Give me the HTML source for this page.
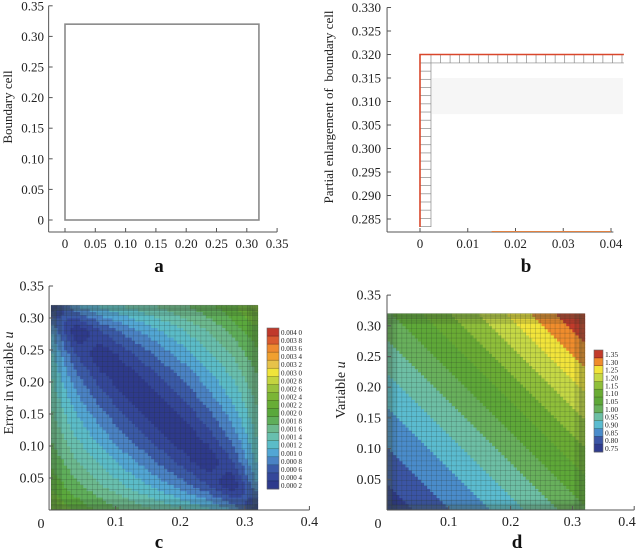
<!DOCTYPE html>
<html><head><meta charset="utf-8"><style>
body{margin:0;background:#fff;}
svg{display:block;font-family:"Liberation Serif",serif;}
</style></head><body>
<svg id="fig" width="638" height="555" viewBox="0 0 638 555" xmlns="http://www.w3.org/2000/svg">
<g id="pa"></g>
<g id="pb"></g>
<g id="pc"></g>
<g id="pd"></g>
</svg>
<script>
// ---- data ----
const gridCoords = [0,0.04,0.08,0.12,0.16,0.20,0.24,0.28,0.32];
// panel c: error (units of 1e-4), rows bottom (y=0) to top (y=0.32)
const errorGrid = [
 [22.0,19.5,17.4,15.7,14.0,12.5,10.8,8.2,0],
 [19.5,16.5,13.9,11.6,9.4,7.0,4.2,0,8.2],
 [17.4,13.9,11.0,8.4,5.8,3.1,0,4.2,10.8],
 [15.7,11.6,8.4,5.5,2.8,0,3.1,7.0,12.5],
 [14.0,9.4,5.8,2.8,0,2.8,5.8,9.4,14.0],
 [12.5,7.0,3.1,0,2.8,5.5,8.4,11.6,15.7],
 [10.8,4.2,0,3.1,5.8,8.4,11.0,13.9,17.4],
 [8.2,0,4.2,7.0,9.4,11.6,13.9,16.5,19.5],
 [0,8.2,10.8,12.5,14.0,15.7,17.4,19.5,23.0]
];
// panel d: variable u, rows bottom to top
const uGrid = [
 [0.720,0.749,0.780,0.812,0.845,0.879,0.915,0.953,0.992],
 [0.749,0.780,0.812,0.845,0.879,0.915,0.953,0.992,1.032],
 [0.780,0.812,0.845,0.879,0.915,0.953,0.992,1.032,1.074],
 [0.812,0.845,0.879,0.915,0.953,0.992,1.032,1.074,1.118],
 [0.845,0.879,0.915,0.953,0.992,1.032,1.074,1.118,1.164],
 [0.879,0.915,0.953,0.992,1.032,1.074,1.118,1.164,1.211],
 [0.915,0.953,0.992,1.032,1.074,1.118,1.164,1.211,1.261],
 [0.953,0.992,1.032,1.074,1.118,1.164,1.211,1.261,1.312],
 [0.992,1.032,1.074,1.118,1.164,1.211,1.261,1.312,1.365]
];
const errLevels = ["0.000 2","0.000 4","0.000 6","0.000 8","0.001 0","0.001 2","0.001 4","0.001 6","0.001 8","0.002 0","0.002 2","0.002 4","0.002 6","0.002 8","0.003 0","0.003 2","0.003 4","0.003 6","0.003 8","0.004 0"];
const errColors = ["#2e3a8c","#34479a","#3b5aa8","#4a82c4","#52a6d4","#5bbcc8","#68bfae","#6cb98e","#5fae5a","#5aa83c","#68ad36","#7bb535","#99c23c","#c4d43f","#f0e43a","#e6c24a","#f0a030","#ee8a30","#d85a30","#c0392b"];
const uLevels = ["0.75","0.80","0.85","0.90","0.95","1.00","1.05","1.10","1.15","1.20","1.25","1.30","1.35"];
const uColors = ["#2f3b8e","#3b55a5","#4a8ccb","#5bbcd0","#6dbfa5","#68b05c","#5ea838","#6aac34","#8fbf3a","#c5d845","#f2e43a","#ef8c2c","#c23b2b"];
const ticksA = [0,0.05,0.10,0.15,0.20,0.25,0.30,0.35];
const ticksBy = [0.285,0.290,0.295,0.300,0.305,0.310,0.315,0.320,0.325,0.330];
const ticksBx = [0,0.01,0.02,0.03,0.04];
const ticksCy = [0.05,0.10,0.15,0.20,0.25,0.30,0.35];
const ticksCx = [0.1,0.2,0.3,0.4];

const NS="http://www.w3.org/2000/svg";
function mk(p,tag,attrs,txt){const e=document.createElementNS(NS,tag);for(const k in attrs)e.setAttribute(k,attrs[k]);if(txt!==undefined)e.textContent=txt;p.appendChild(e);return e;}
function fmt(v,d){return v.toFixed(d);}

function axes(g,X,Y,xr,yr,xt,yt,xd,yd,fs,xlab0,ylx){
  const a=mk(g,'line',{x1:X(xr[0]),y1:Y(yr[0]),x2:X(xr[1]),y2:Y(yr[0]),stroke:'#555','stroke-width':1});
  
  const b=mk(g,'line',{x1:X(xr[0]),y1:Y(yr[0]),x2:X(xr[0]),y2:Y(yr[1]),stroke:'#555','stroke-width':1});
  
  xt.forEach(v=>{mk(g,'line',{x1:X(v),y1:Y(yr[0]),x2:X(v),y2:Y(yr[0])-4,stroke:'#555'});
    const t=mk(g,'text',{x:Math.min(X(v),627),y:Y(yr[0])+16,'font-size':fs,'text-anchor':'middle',fill:'#222'},v===0?'0':fmt(v,xd));
    });
  yt.forEach(v=>{mk(g,'line',{x1:X(xr[0]),y1:Y(v),x2:X(xr[0])+4,y2:Y(v),stroke:'#555'});
    const t=mk(g,'text',{x:ylx,y:Y(v)+4.5,'font-size':fs,'text-anchor':'end',fill:'#222'},v===0?'0':fmt(v,yd));
    });
}
function title(g,x,y,txt,fs,name){const t=mk(g,'text',{x:x,y:y,'font-size':fs,'text-anchor':'middle',transform:`rotate(-90 ${x} ${y})`,fill:'#222'});t.innerHTML=txt;}
function letter(g,x,y,s){const t=mk(g,'text',{x:x,y:y,'font-size':19,'font-weight':'bold','text-anchor':'middle',fill:'#111'},s);}

function bil(grid,fx,fy){const n=grid.length-1;let i=Math.min(Math.floor(fx),n-1),j=Math.min(Math.floor(fy),n-1);const tx=fx-i,ty=fy-j;
 return grid[j][i]*(1-tx)*(1-ty)+grid[j][i+1]*tx*(1-ty)+grid[j+1][i]*(1-tx)*ty+grid[j+1][i+1]*tx*ty;}

function field(g,grid,colors,lev,X,Y,name){
  const N=64, x0=gridCoords[0], x1=gridCoords[gridCoords.length-1], n=grid.length-1;
  const fg=mk(g,'g',{});
  for(let a=0;a<N;a++)for(let b=0;b<N;b++){
    const fx=(a+0.5)/N*n, fy=(b+0.5)/N*n, v=bil(grid,fx,fy);
    const k=Math.max(0,Math.min(colors.length-1,lev(v)));
    const xa=x0+(x1-x0)*a/N, xb=x0+(x1-x0)*(a+1)/N, ya=x0+(x1-x0)*b/N, yb=x0+(x1-x0)*(b+1)/N;
    mk(fg,'rect',{x:X(xa),y:Y(yb),width:X(xb)-X(xa)+0.4,height:Y(ya)-Y(yb)+0.4,fill:colors[k]});
  }
  const mg=mk(g,'g',{stroke:'rgba(40,50,40,0.3)','stroke-width':0.6});
  const lines=[];for(let v=0;v<=0.3201;v+=0.008)lines.push(v);
  for(let v=0.001;v<0.016;v+=0.002){lines.push(v);lines.push(0.32-v);}
  lines.forEach(v=>{mk(mg,'line',{x1:X(v),y1:Y(0),x2:X(v),y2:Y(0.32)});mk(mg,'line',{x1:X(0),y1:Y(v),x2:X(0.32),y2:Y(v)});});
  mk(g,'rect',{x:X(0.004),y:Y(0.316),width:X(0.316)-X(0.004),height:Y(0.004)-Y(0.316),fill:'none',stroke:'rgba(70,90,60,0.25)','stroke-width':5});
}
function cbar(g,x,yTop,yBot,w,colors,labels,fs,name){
  const cg=mk(g,'g',{});
  const n=colors.length,h=(yBot-yTop)/n;
  for(let k=0;k<n;k++){const yy=yBot-(k+1)*h;
    const r=mk(cg,'rect',{x:x,y:yy,width:w,height:h+0.3,fill:colors[k]});
    mk(cg,'line',{x1:x,y1:yy+h,x2:x+w,y2:yy+h,stroke:'rgba(0,0,0,0.4)','stroke-width':0.6});
    const t=mk(cg,'text',{x:x+w+2,y:yy+h/2+3,'font-size':fs,fill:'#222'},labels[k]);}
  mk(cg,'rect',{x:x,y:yTop,width:w,height:yBot-yTop,fill:'none',stroke:'#666','stroke-width':0.6});
}

// ---- panel a ----
(function(){const g=document.getElementById('pa');
 const X=v=>65+v*606, Y=v=>220-v*612;
 axes(g,X,Y,[-0.027,0.35],[-0.0196,0.35],ticksA,ticksA,2,2,13,0,44);
 const bx=mk(g,'rect',{x:X(0),y:Y(0.32),width:X(0.32)-X(0),height:Y(0)-Y(0.32),fill:'none',stroke:'#8a8a8a','stroke-width':1.6});
 
 title(g,12,107,'Boundary cell',13,'y-axis-title');letter(g,159,272,'a');})();

// ---- panel b ----
(function(){const g=document.getElementById('pb');
 const X=v=>420+v*4775, Y=v=>219-(v-0.285)*4700;
 axes(g,X,Y,[-0.0069,0.0405],[0.28223,0.330],ticksBx,ticksBy,2,3,13,0,381);
 const cg=mk(g,'g',{stroke:'#888','stroke-width':0.7,fill:'none'});
 mk(g,'rect',{x:X(0.0025),y:Y(0.315),width:X(0.0425)-X(0.0025),height:Y(0.3073)-Y(0.315),fill:'rgba(0,0,0,0.035)'});
 mk(cg,'line',{x1:X(0.0023),y1:Y(0.3182),x2:X(0.0023),y2:227});
 mk(cg,'line',{x1:X(0.0023),y1:Y(0.3182),x2:X(0.0427),y2:Y(0.3182)});
 for(let v=0.3182;v>0.2825;v-=0.00174)mk(cg,'line',{x1:X(0),y1:Y(v),x2:X(0.0023),y2:Y(v)});
 for(let v=0.0023;v<0.0427;v+=0.002)mk(cg,'line',{x1:X(v),y1:Y(0.32),x2:X(v),y2:Y(0.3182)});
 const r=mk(g,'path',{d:`M${X(0)},227 L${X(0)},${Y(0.32)} L${X(0.0427)},${Y(0.32)}`,stroke:'#d9472b','stroke-width':1.6,fill:'none'});
 
 mk(g,'line',{x1:X(0.015),y1:231.5,x2:X(0.04),y2:231.5,stroke:'#e08040','stroke-width':1});
 title(g,333,107,'Partial enlargement of&#160; boundary cell',13,'y-axis-title');letter(g,526,272,'b');})();

// ---- panel c ----
(function(){const g=document.getElementById('pc');
 const X=v=>51+v*646, Y=v=>510-v*640;
 field(g,errorGrid,errColors,v=>Math.floor(v/2),X,Y,'error-contour');
 axes(g,X,Y,[-0.003,0.4],[0,0.35],ticksCx,ticksCy,1,2,14,0,44);
 mk(g,'text',{x:41,y:528,'font-size':14,'text-anchor':'middle',fill:'#222'},'0');
 cbar(g,267,328,489,12,errColors,errLevels,7,'colorbar-error');
 title(g,13,383,'Error in variable <tspan font-style="italic">u</tspan>',14,'y-axis-title');letter(g,159,548,'c');})();

// ---- panel d ----
(function(){const g=document.getElementById('pd');
 const X=v=>387+v*618, Y=v=>510-v*614;
 field(g,uGrid,uColors,v=>Math.floor((v-0.75)/0.05)+1,X,Y,'variable-contour');
 axes(g,X,Y,[0,0.4],[0,0.35],ticksCx,ticksCy,1,2,14,0,381);
 mk(g,'text',{x:378,y:528,'font-size':14,'text-anchor':'middle',fill:'#222'},'0');
 cbar(g,594,350,452,9,uColors,uLevels,7.5,'colorbar-u');
 title(g,345,390,'Variable <tspan font-style="italic">u</tspan>',14,'y-axis-title');letter(g,517,548,'d');})();
</script>
</body></html>
